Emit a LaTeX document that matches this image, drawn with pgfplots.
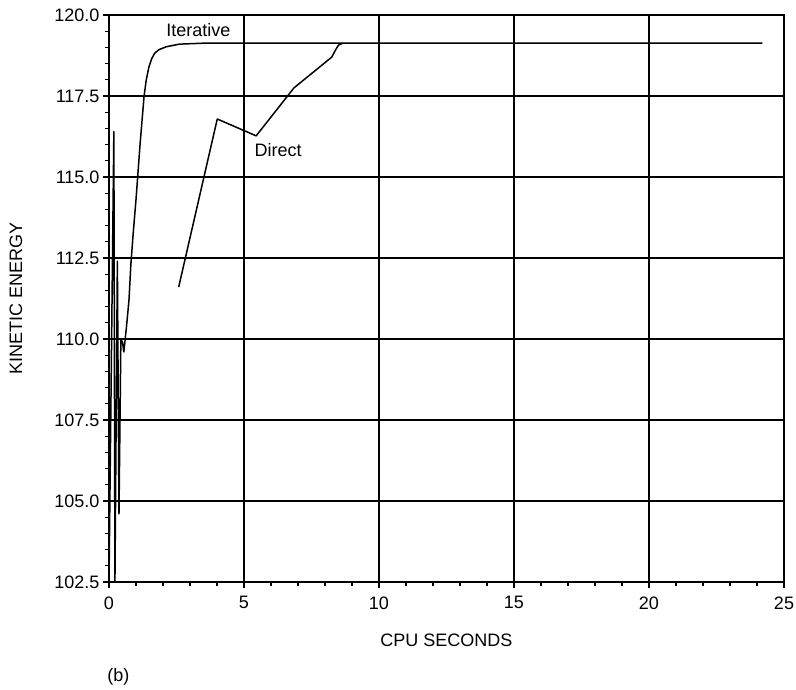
\documentclass[border=0pt]{standalone}
\usepackage{fontspec}
\setmainfont{Liberation Sans}
\usepackage{pgfplots}
\pgfplotsset{compat=1.18}

% Kinetic energy against CPU time for the two solution schemes
\pgfplotstableread{
x      y
0.00   102.5
0.18   116.4
0.22   102.5
0.31   112.4
0.37   104.6
0.44   110.0
0.50   109.9
0.55   109.6
0.65   110.4
0.74   111.2
0.81   112.3
0.90   113.3
1.00   114.3
1.15   116.0
1.30   117.5
1.38   118.0
1.48   118.4
1.58   118.65
1.69   118.82
1.85   118.93
2.12   119.02
2.60   119.10
3.50   119.13
24.20  119.13
}\iterative

\pgfplotstableread{
x      y
2.58   111.6
4.01   116.79
5.45   116.27
6.85   117.75
8.25   118.70
8.39   118.92
8.50   119.07
8.65   119.13
}\direct

\begin{document}
\begin{tikzpicture}[font=\fontsize{18}{21}\selectfont]
\begin{axis}[
  scale only axis,
  width=675pt, height=567pt,
  xmin=0, xmax=25,
  ymin=102.5, ymax=120,
  xtick={0,5,...,25},
  ytick={102.5,105,107.5,110,112.5,115,117.5,120},
  minor x tick num=4,
  minor y tick num=4,
  tick align=outside,
  xtick pos=bottom,
  ytick pos=left,
  major tick length=6pt,
  minor tick length=4pt,
  every tick/.style={black, line width=1.1pt},
  axis line style={black, line width=1.5pt},
  grid=major,
  major grid style={black, line width=1.5pt},
  /pgf/number format/assume math mode=true,
  yticklabel style={/pgf/number format/.cd, fixed, fixed zerofill, precision=1},
  xticklabel style={/pgf/number format/.cd, fixed, /tikz/.cd, yshift=-5pt},
  xlabel={CPU SECONDS},
  ylabel={KINETIC ENERGY},
  xlabel style={at={(axis description cs:0.5,-0.102)}, anchor=center},
  ylabel style={at={(axis description cs:-0.138,0.5)}, anchor=center},
  clip=false,
]
\addplot[black, line width=1.5pt, line join=round] table[x=x, y=y] {\iterative};
\addplot[black, line width=1.5pt, line join=round] table[x=x, y=y] {\direct};

\node[anchor=center] at (axis cs:3.31,119.54) {Iterative};
\node[anchor=center] at (axis cs:6.26,115.83) {Direct};
\node[anchor=center] at (axis description cs:0.014,-0.167) {(b)};

\coordinate (sw) at (rel axis cs:0,0);
\coordinate (ne) at (rel axis cs:1,1);
\end{axis}
\pgfresetboundingbox
\path ([shift={(-109pt,-107pt)}]sw) rectangle ([shift={(12pt,15pt)}]ne);
\end{tikzpicture}
\end{document}
